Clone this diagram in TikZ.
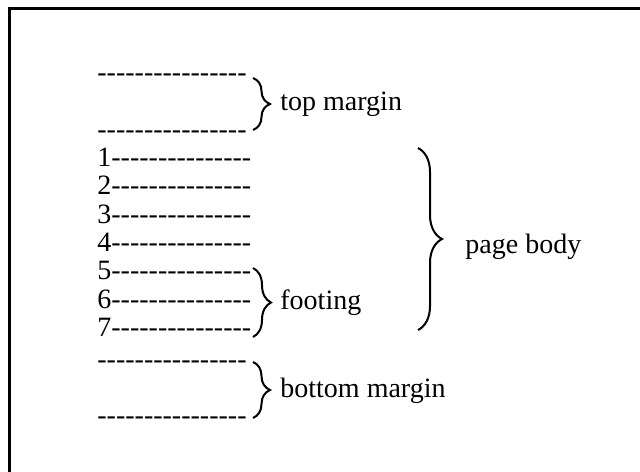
\documentclass[tikz,border=0pt]{standalone}
\usepackage{fontspec}
\setmainfont{Liberation Serif}[Ligatures=TeXOff]
\usetikzlibrary{decorations.pathreplacing}
\begin{document}
\begin{tikzpicture}[x=0.5pt,y=-0.5pt,
  txt/.style={inner sep=0pt, anchor=base west, font=\fontsize{14}{16}\selectfont},
  curly/.style={decorate, decoration={brace, amplitude=#1}, line width=1pt},
  frame/.style={line width=1.5pt}]
\useasboundingbox (0,0) rectangle (640,471);
\clip (0,0) rectangle (640,471);
% page outline (top and left edges)
\draw[frame] (9.5,480) -- (9.5,8) -- (650,8);

% top margin
\node[txt] (tm1) at (97,81.5) {----------------};
\node[txt] (tm2) at (97,138) {----------------};
% numbered body lines
\node[txt] (r1) at (97,166.5) {1---------------};
\node[txt] (r2) at (97,194.8) {2---------------};
\node[txt] (r3) at (97,223.2) {3---------------};
\node[txt] (r4) at (97,251.5) {4---------------};
\node[txt] (r5) at (97,279.8) {5---------------};
\node[txt] (r6) at (97,308.2) {6---------------};
\node[txt] (r7) at (97,336.5) {7---------------};
% bottom margin
\node[txt] (bm1) at (97,368.5) {----------------};
\node[txt] (bm2) at (97,424.5) {----------------};

% brace end points
\coordinate (tmA) at (253,78);
\coordinate (tmB) at (253,130);
\coordinate (ftA) at (253,268);
\coordinate (ftB) at (253,337);
\coordinate (bmA) at (253,362);
\coordinate (bmB) at (253,418);
\coordinate (pbA) at (418,148);
\coordinate (pbB) at (418,330);

\draw[curly=8.5pt] (tmA) -- (tmB);
\draw[curly=9pt] (ftA) -- (ftB);
\draw[curly=8.5pt] (bmA) -- (bmB);
\draw[curly=12pt] (pbA) -- (pbB);

% labels
\node[txt] (lblTop) at (280,110) {top margin};
\node[txt] (lblFoot) at (280,309) {footing};
\node[txt] (lblBottom) at (280,397) {bottom margin};
\node[txt] (lblBody) at (465,253) {page body};
\end{tikzpicture}
\end{document}
